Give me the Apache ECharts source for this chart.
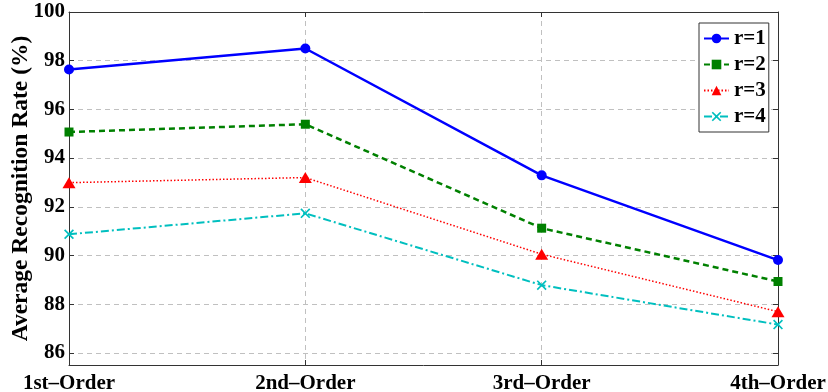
<!DOCTYPE html>
<html>
<head>
<meta charset="utf-8">
<script src="https://cdn.jsdelivr.net/npm/echarts@6/dist/echarts.min.js"></script>
<style>
html,body{margin:0;padding:0;background:#fff;}
#chart{width:828px;height:392px;}
</style>
</head>
<body>
<div id="chart"></div>
<script>
const categories = ['1st\u2013Order', '2nd\u2013Order', '3rd\u2013Order', '4th\u2013Order'];
const r1 = [97.64, 98.50, 93.29, 89.81];
const r2 = [95.07, 95.39, 91.12, 88.93];
const r3 = [92.99, 93.20, 90.05, 87.69];
const r4 = [90.87, 91.73, 88.78, 87.16];
const yTicks = [86, 88, 90, 92, 94, 96, 98, 100];
const seriesNames = ['r=1', 'r=2', 'r=3', 'r=4'];

const FONT = 'Liberation Serif';
const xMark = 'path://M0,1.2 L1.2,0 L5,3.8 L8.8,0 L10,1.2 L6.2,5 L10,8.8 L8.8,10 L5,6.2 L1.2,10 L0,8.8 L3.8,5 Z';

const chart = echarts.init(document.getElementById('chart'), null, {renderer: 'canvas'});
const yCommon = {
  type: 'value', min: 85.5, max: 100,
  axisLine: {show: true, lineStyle: {color: '#333', width: 1}},
};
const option = {
  backgroundColor: '#fff',
  animation: false,
  grid: {left: 69, right: 50, top: 12, bottom: 27, containLabel: false, outerBoundsMode: 'none'},
  legend: {
    orient: 'vertical', left: 699, top: 23,
    data: seriesNames,
    backgroundColor: '#fff', borderColor: '#333', borderWidth: 1,
    padding: [5, 3, 5, 4], itemGap: 5, itemWidth: 25, itemHeight: 12,
    textStyle: {fontFamily: FONT, fontWeight: 'bold', fontSize: 21, color: '#000'}
  },
  xAxis: [{
    type: 'category', data: categories, boundaryGap: false,
    axisLine: {show: true, onZero: false, lineStyle: {color: '#333', width: 1}},
    axisTick: {show: true, inside: true, length: 5, lineStyle: {color: '#333'}},
    axisLabel: {fontFamily: FONT, fontWeight: 'bold', fontSize: 21, color: '#000', margin: 8,
      interval: 0},
    splitLine: {show: true, lineStyle: {color: '#c0c0c0', type: [5, 4], width: 1}}
  }, {
    type: 'category', data: categories, boundaryGap: false, position: 'top',
    axisLine: {show: true, onZero: false, lineStyle: {color: '#333', width: 1}},
    axisTick: {show: true, inside: true, length: 5, lineStyle: {color: '#333'}},
    axisLabel: {show: false}, splitLine: {show: false}
  }],
  yAxis: [Object.assign({}, yCommon, {
    position: 'left',
    name: 'Average Recognition Rate (%)', nameLocation: 'middle', nameGap: 36,
    nameMoveOverlap: false,
    nameTextStyle: {fontFamily: FONT, fontWeight: 'bold', fontSize: 23.5, color: '#000'},
    axisTick: {show: true, inside: true, length: 5, customValues: yTicks, lineStyle: {color: '#333'}},
    axisLabel: {fontFamily: FONT, fontWeight: 'bold', fontSize: 21, color: '#000', margin: 4,
      customValues: yTicks},
    splitLine: {show: true, lineStyle: {color: '#c0c0c0', type: [5, 4], width: 1}}
  }), Object.assign({}, yCommon, {
    position: 'right',
    axisTick: {show: true, inside: true, length: 5, customValues: yTicks, lineStyle: {color: '#333'}},
    axisLabel: {show: false, customValues: yTicks},
    splitLine: {show: false}
  })],
  series: [
    {name: 'r=1', type: 'line', data: r1, symbol: 'circle', symbolSize: 10,
      lineStyle: {color: '#0000ff', width: 2.5, type: 'solid'},
      itemStyle: {color: '#0000ff'}, z: 5},
    {name: 'r=2', type: 'line', data: r2, symbol: 'rect', symbolSize: 9,
      lineStyle: {color: '#008000', width: 2.5, type: [6, 4]},
      itemStyle: {color: '#008000'}, z: 4},
    {name: 'r=3', type: 'line', data: r3, symbol: 'triangle', symbolSize: [13, 11],
      lineStyle: {color: '#ff0000', width: 1.5, type: [1.5, 2]},
      itemStyle: {color: '#ff0000'}, z: 3},
    {name: 'r=4', type: 'line', data: r4, symbol: xMark, symbolSize: 10,
      lineStyle: {color: '#00bfbf', width: 2, type: [8, 3, 2, 3]},
      itemStyle: {color: '#00bfbf'}, z: 2}
  ]
};
chart.setOption(option);
</script>
</body>
</html>
